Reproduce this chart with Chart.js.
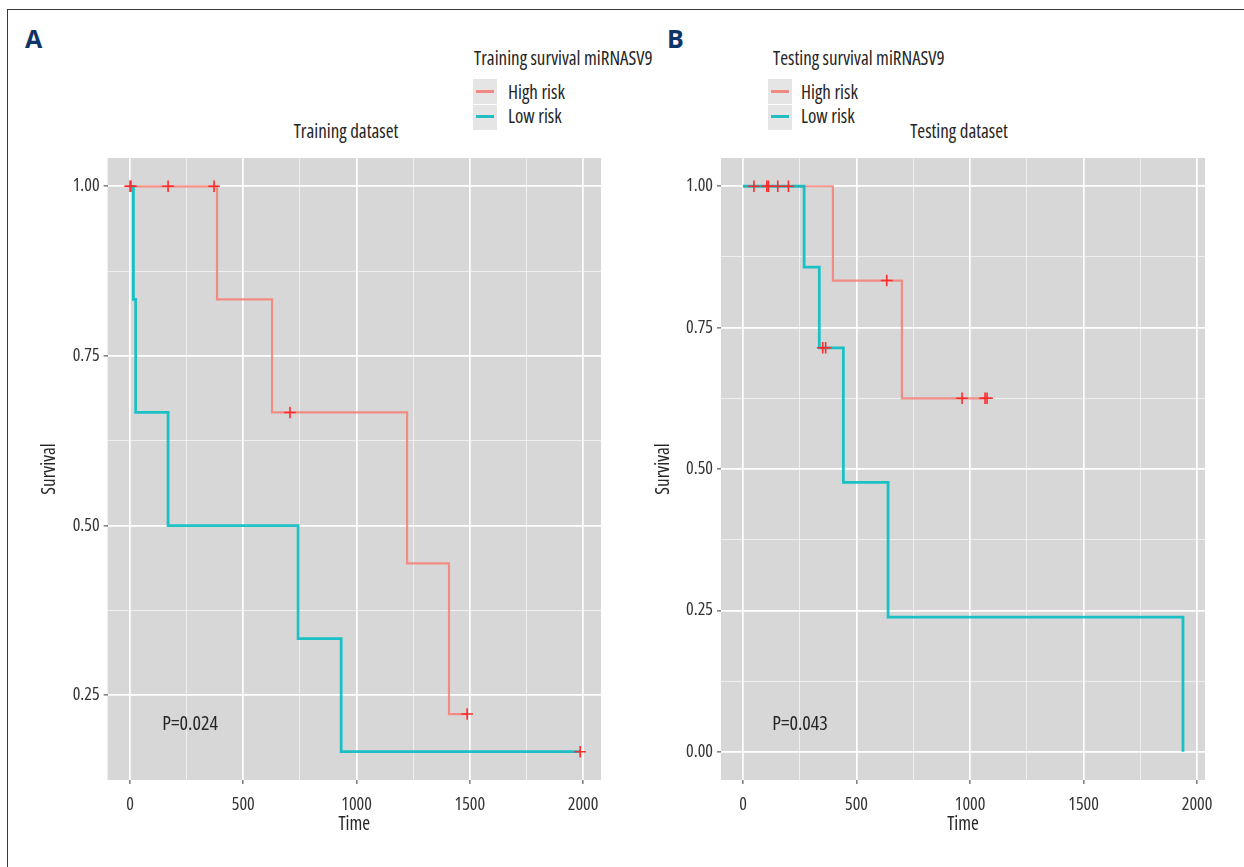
<!DOCTYPE html>
<html>
<head>
<meta charset="utf-8">
<script src="https://cdn.jsdelivr.net/npm/chart.js@4.4.1/dist/chart.umd.min.js"></script>
<style>
  html, body { margin: 0; padding: 0; background: #ffffff; }
  body {
    width: 1244px; height: 867px; position: relative; overflow: hidden;
    font-family: 'Open Sans', sans-serif; font-stretch: condensed;
    color: #262626;
  }
  .frame { position: absolute; left: 7px; top: 9px; width: 1300px; height: 900px;
           border-left: 1.5px solid #3a3a3a; border-top: 1.5px solid #3a3a3a; }
  canvas { position: absolute; }
  .t { position: absolute; white-space: nowrap; font-size: 19px; line-height: 24px; transform: translateY(-50%); }
  .c { transform: translate(-50%, -50%); }
  .tag { font-family: 'Open Sans', sans-serif; font-stretch: normal; font-weight: bold; font-size: 25px; color: #0F3366; }
  .key { position: absolute; width: 24px; height: 25px; background: #E5E5E5; }
  .kl { position: absolute; height: 2.5px; width: 18px; }
</style>
</head>
<body>
<div class="frame"></div>

<div class="t tag" style="left:25px; top:38px;">A</div>
<div class="t tag" style="left:667px; top:38px;">B</div>

<!-- legend, training panel -->
<div class="t" style="left:474px; top:58px;">Training survival miRNASV9</div>
<div class="key" style="left:473px; top:79px;"></div>
<div class="key" style="left:473px; top:105px;"></div>
<div class="kl" style="left:476px; top:90px; background:#F18982;"></div>
<div class="kl" style="left:476px; top:115px; background:#22BEC2;"></div>
<div class="t" style="left:508px; top:92px;">High risk</div>
<div class="t" style="left:508px; top:116px;">Low risk</div>
<div class="t c" style="left:346px; top:131px;">Training dataset</div>

<!-- legend, testing panel -->
<div class="t" style="left:773px; top:58px;">Testing survival miRNASV9</div>
<div class="key" style="left:768px; top:79px;"></div>
<div class="key" style="left:768px; top:105px;"></div>
<div class="kl" style="left:771px; top:90px; background:#F18982;"></div>
<div class="kl" style="left:771px; top:115px; background:#22BEC2;"></div>
<div class="t" style="left:801px; top:92px;">High risk</div>
<div class="t" style="left:801px; top:116px;">Low risk</div>
<div class="t c" style="left:959px; top:131px;">Testing dataset</div>

<canvas id="trainChart" width="622" height="737" style="left:0px; top:130px; width:622px; height:737px;"></canvas>
<canvas id="testChart" width="622" height="737" style="left:622px; top:130px; width:622px; height:737px;"></canvas>

<script>
// ---- axis breaks ----
const xTickMajor = [0, 500, 1000, 1500, 2000];
const xTickMinor = [250, 750, 1250, 1750];
const trainYMajor = [0.25, 0.5, 0.75, 1];
const trainYMinor = [0.375, 0.625, 0.875];
const testYMajor = [0, 0.25, 0.5, 0.75, 1];
const testYMinor = [0.125, 0.375, 0.625, 0.875];

// ---- training set: Kaplan-Meier steps (event time, survival after the event) ----
const trainHighTime = [0, 384, 627, 1223, 1408, 1488];
const trainHighSurv = [1, 0.8333, 0.6667, 0.4444, 0.2222, 0.2222];
const trainLowTime  = [0, 15, 25, 168, 742, 932, 1987];
const trainLowSurv  = [1, 0.8333, 0.6667, 0.5, 0.3333, 0.1667, 0.1667];
// censored observations
const trainCensorTime = [0, 4, 168, 371, 706, 1488, 1987];
const trainCensorSurv = [1, 1, 1, 1, 0.6667, 0.2222, 0.1667];

// ---- testing set ----
const testHighTime = [0, 396, 700, 1075];
const testHighSurv = [1, 0.8333, 0.625, 0.625];
const testLowTime  = [0, 269, 336, 442, 639, 1938];
const testLowSurv  = [1, 0.8571, 0.7143, 0.4762, 0.2381, 0];
const testCensorTime = [48, 105, 112, 153, 200, 351, 364, 633, 965, 1066, 1075];
const testCensorSurv = [1, 1, 1, 1, 1, 0.7143, 0.7143, 0.8333, 0.625, 0.625, 0.625];

const pTrain = 'P=0.024';
const pTest = 'P=0.043';

// condensed face of Open Sans; the stretch keyword rides in the weight slot of the font string
const FAMILY = "'Open Sans', sans-serif";
const STRETCH = 'condensed';
const RED_LINE = 'rgba(248,118,109,0.78)';
const TEAL_LINE = 'rgba(0,189,194,0.88)';
const CENSOR = '#FF2B2B';
const PANEL_BG = '#D7D7D7';

const toPoints = (t, s) => t.map((v, i) => ({ x: v, y: s[i] }));

// gray panel behind the grid
const panelBg = {
  id: 'panelBg',
  beforeDraw(chart) {
    const a = chart.chartArea, ctx = chart.ctx;
    ctx.save();
    ctx.fillStyle = PANEL_BG;
    ctx.fillRect(a.left, a.top, a.right - a.left, a.bottom - a.top);
    ctx.restore();
  }
};

// log-rank p value written inside the panel
const pLabel = {
  id: 'pLabel',
  afterDatasetsDraw(chart, args, opts) {
    const ctx = chart.ctx;
    const x = chart.scales.x.getPixelForValue(opts.x);
    const y = chart.scales.y.getPixelForValue(opts.y);
    ctx.save();
    ctx.font = STRETCH + ' 20px ' + FAMILY;
    ctx.fillStyle = '#262626';
    ctx.textAlign = 'center';
    ctx.textBaseline = 'middle';
    ctx.fillText(opts.text, x, y);
    ctx.restore();
  }
};

function makeChart(id, cfg) {
  const majX = new Set(xTickMajor);
  const majY = new Set(cfg.yMajor);
  const allX = [...xTickMajor, ...xTickMinor].sort((a, b) => a - b);
  const allY = [...cfg.yMajor, ...cfg.yMinor].sort((a, b) => a - b);
  const gridFor = (set) => ({
    color: c => set.has(c.tick.value) ? '#FFFFFF' : 'rgba(255,255,255,0.7)',
    lineWidth: c => set.has(c.tick.value) ? 1.7 : 0.9,
    tickColor: c => set.has(c.tick.value) ? '#666666' : 'rgba(0,0,0,0)',
    tickWidth: 1.3,
    tickLength: 4,
    drawOnChartArea: true
  });
  const tickFont = { family: FAMILY, size: 18, weight: STRETCH };
  const titleFont = { family: FAMILY, size: 19, weight: STRETCH };
  return new Chart(document.getElementById(id), {
    type: 'scatter',
    data: {
      datasets: [
        { label: 'censor', data: toPoints(cfg.censorT, cfg.censorS), showLine: false,
          pointStyle: 'cross', pointRadius: 5.8, pointBorderWidth: 1.6,
          borderColor: CENSOR, backgroundColor: CENSOR, order: 0 },
        { label: 'Low risk', data: toPoints(cfg.lowT, cfg.lowS), showLine: true, stepped: 'before',
          borderColor: TEAL_LINE, borderWidth: 2.8, pointRadius: 0, order: 1 },
        { label: 'High risk', data: toPoints(cfg.highT, cfg.highS), showLine: true, stepped: 'before',
          borderColor: RED_LINE, borderWidth: 2.2, pointRadius: 0, order: 2 }
      ]
    },
    options: {
      responsive: false,
      animation: false,
      devicePixelRatio: 1,
      layout: { padding: cfg.padding },
      plugins: {
        legend: { display: false },
        tooltip: { enabled: false },
        pLabel: cfg.p
      },
      scales: {
        x: {
          type: 'linear', min: cfg.xMin, max: cfg.xMax,
          border: { display: false },
          grid: gridFor(majX),
          afterBuildTicks: s => { s.ticks = allX.map(v => ({ value: v })); },
          afterFit: s => { s.height = 56.4; },
          ticks: {
            autoSkip: false, maxRotation: 0, padding: 10,
            color: '#333333', font: tickFont,
            callback: v => majX.has(v) ? String(v) : ''
          },
          title: { display: true, text: 'Time', color: '#262626', padding: 0, font: titleFont }
        },
        y: {
          type: 'linear', min: cfg.yMin, max: cfg.yMax,
          border: { display: false },
          grid: gridFor(majY),
          afterBuildTicks: s => { s.ticks = allY.map(v => ({ value: v })); },
          afterFit: s => { s.width = 69; },
          ticks: {
            autoSkip: false, padding: 4,
            color: '#333333', font: tickFont,
            callback: v => majY.has(v) ? v.toFixed(2) : ''
          },
          title: { display: true, text: 'Survival', color: '#262626', padding: 0, font: titleFont }
        }
      }
    },
    plugins: [panelBg, pLabel]
  });
}

makeChart('trainChart', {
  highT: trainHighTime, highS: trainHighSurv,
  lowT: trainLowTime, lowS: trainLowSurv,
  censorT: trainCensorTime, censorS: trainCensorSurv,
  yMajor: trainYMajor, yMinor: trainYMinor,
  xMin: -99, xMax: 2079, yMin: 0.125, yMax: 1.0417,
  padding: { left: 38.6, right: 21, top: 28, bottom: 30.6 },
  p: { text: pTrain, x: 265, y: 0.207 }
});

makeChart('testChart', {
  highT: testHighTime, highS: testHighSurv,
  lowT: testLowTime, lowS: testLowSurv,
  censorT: testCensorTime, censorS: testCensorSurv,
  yMajor: testYMajor, yMinor: testYMinor,
  xMin: -97, xMax: 2035, yMin: -0.05, yMax: 1.05,
  padding: { left: 30, right: 39, top: 28, bottom: 30.6 },
  p: { text: pTest, x: 251, y: 0.048 }
});
</script>
</body>
</html>
